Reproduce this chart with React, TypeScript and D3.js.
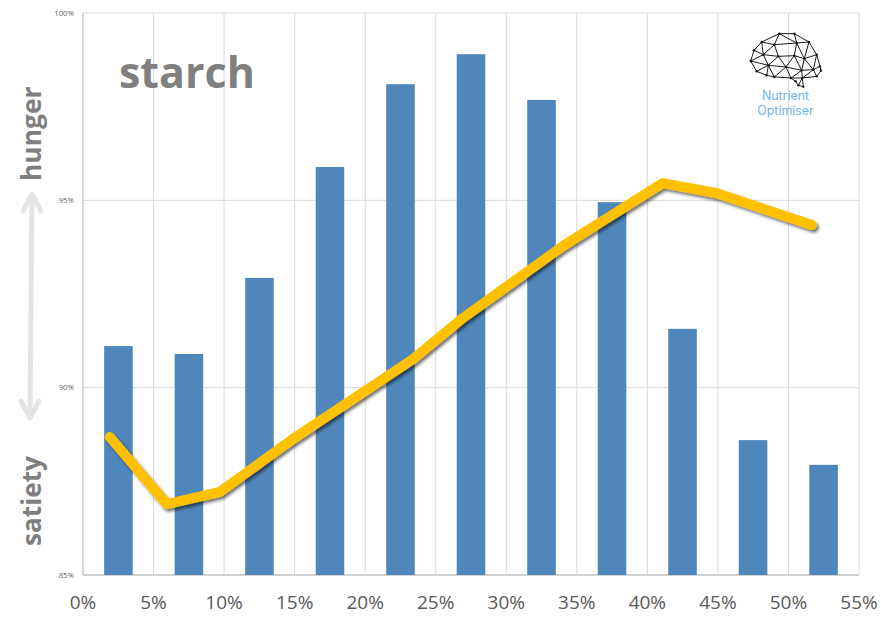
import * as d3 from 'd3'
import { useEffect, useRef } from 'react'

const width = 881
const height = 620

const xTicks = [0, 5, 10, 15, 20, 25, 30, 35, 40, 45, 50, 55]
const yTicks = [85, 90, 95, 100]

// one bar per 5% bin
const barBins = ['0-5', '5-10', '10-15', '15-20', '20-25', '25-30', '30-35', '35-40', '40-45', '45-50', '50-55']
const barValues = [91.11, 90.9, 92.93, 95.89, 98.1, 98.9, 97.68, 94.95, 91.57, 88.6, 87.94]

const lineX = [1.91, 5.95, 9.71, 14.88, 23.39, 26.93, 34.02, 41.1, 44.93, 51.66]
const lineY = [88.68, 86.89, 87.22, 88.63, 90.76, 91.86, 93.78, 95.46, 95.19, 94.34]

// brain logo, wireframe nodes in logo space
const brainNodes = [
    [103, 17], [148, 17], [50, 42], [88, 50], [155, 45], [192, 42], [27, 67], [55, 80], [17, 99],
    [100, 85], [148, 83], [178, 92], [215, 80], [35, 130], [70, 112], [123, 117], [225, 115],
    [65, 142], [88, 147], [170, 127], [205, 125], [228, 128], [138, 150], [172, 150], [215, 145],
    [160, 172], [175, 176], [152, 160]
]
const brainEdges = [
    [0, 1], [0, 2], [0, 3], [0, 4], [1, 4], [1, 5], [2, 3], [2, 6], [2, 7], [3, 7], [3, 4], [3, 9], [4, 5],
    [4, 10], [4, 11], [5, 11], [5, 12], [6, 7], [6, 8], [7, 8], [7, 9], [7, 14], [8, 13], [8, 14], [9, 10],
    [9, 15], [9, 14], [10, 11], [10, 15], [11, 12], [11, 19], [11, 20], [12, 16], [12, 20], [13, 14],
    [13, 17], [14, 17], [14, 18], [14, 15], [15, 18], [15, 19], [15, 22], [16, 20], [16, 21], [17, 18],
    [19, 20], [19, 22], [19, 23], [20, 23], [20, 24], [21, 24], [22, 23], [22, 27], [23, 24], [23, 25],
    [25, 26], [25, 27], [23, 26], [10, 19], [18, 22]
]

const createChart = (node: SVGSVGElement) => {
    const svg = d3.select(node)
    svg.selectAll('*').remove()

    const defs = svg.append('defs')
    const shadow = defs.append('filter')
        .attr('id', 'lineShadow')
        .attr('x', '-10%').attr('y', '-10%').attr('width', '120%').attr('height', '130%')
    shadow.append('feDropShadow')
        .attr('dx', 2).attr('dy', 2.5).attr('stdDeviation', 1.6)
        .attr('flood-color', '#000').attr('flood-opacity', 0.55)

    const x = d3.scaleLinear().domain([0, 55]).range([83, 859])
    const y = d3.scaleLinear().domain([85, 100]).range([575, 13])
    const band = d3.scaleBand().domain(barBins).range([83, 859]).paddingInner(0.595).paddingOuter(0.3)

    // Gridlines
    svg.selectAll('line.v').data(xTicks).enter().append('line')
        .attr('x1', d => x(d)).attr('x2', d => x(d))
        .attr('y1', y(100)).attr('y2', y(85))
        .attr('stroke', '#d9d9d9').attr('stroke-width', 1)

    svg.selectAll('line.h').data(yTicks).enter().append('line')
        .attr('x1', x(0)).attr('x2', x(55))
        .attr('y1', d => y(d)).attr('y2', d => y(d))
        .attr('stroke', '#d9d9d9').attr('stroke-width', 1)

    svg.append('line')
        .attr('x1', x(0)).attr('x2', x(0)).attr('y1', y(100)).attr('y2', y(85))
        .attr('stroke', '#bfbfbf').attr('stroke-width', 1)
    svg.append('line')
        .attr('x1', x(0)).attr('x2', x(55)).attr('y1', y(85)).attr('y2', y(85))
        .attr('stroke', '#b5b5b5').attr('stroke-width', 1)

    // Bars
    svg.selectAll('rect.bar').data(barValues).enter().append('rect')
        .attr('x', (d, i) => band(barBins[i])!)
        .attr('width', band.bandwidth())
        .attr('y', d => y(d))
        .attr('height', d => y(85) - y(d))
        .attr('fill', '#4f87bb')

    // Tick labels
    svg.selectAll('text.y').data(yTicks).enter().append('text')
        .attr('x', 74).attr('y', d => y(d) + 2.5)
        .attr('text-anchor', 'end')
        .attr('font-family', '"Open Sans", sans-serif')
        .attr('font-size', 7.8)
        .attr('fill', '#666')
        .text(d => `${d}%`)

    svg.selectAll('text.x').data(xTicks).enter().append('text')
        .attr('x', d => x(d)).attr('y', 609)
        .attr('text-anchor', 'middle')
        .attr('font-family', '"Open Sans", sans-serif')
        .attr('font-size', 19)
        .attr('fill', '#595959')
        .text(d => `${d}%`)

    // Trend line
    const line = d3.line<number>()
        .x(d => x(d))
        .y((d, i) => y(lineY[i]))

    svg.append('path')
        .datum(lineX)
        .attr('d', line)
        .attr('fill', 'none')
        .attr('stroke', '#ffc000')
        .attr('stroke-width', 10)
        .attr('stroke-linecap', 'round')
        .attr('stroke-linejoin', 'round')
        .attr('filter', 'url(#lineShadow)')

    // Title and side labels
    const bold = (sel: d3.Selection<SVGTextElement, unknown, null, undefined>, size: number) =>
        sel.attr('font-family', '"Open Sans", sans-serif')
            .attr('font-weight', 700)
            .attr('font-size', size)
            .attr('fill', '#7f7f7f')

    bold(svg.append('text').attr('x', 119).attr('y', 88).text('starch'), 43)
    bold(svg.append('text').attr('transform', 'translate(41,181) rotate(-90)').text('hunger'), 26.4)
    bold(svg.append('text').attr('transform', 'translate(41,546) rotate(-90)').text('satiety'), 26.2)

    // Hunger / satiety arrow
    svg.append('path')
        .attr('d', d3.line()([[32, 194], [30, 418]]))
        .attr('fill', 'none')
        .attr('stroke', '#e4e4e4')
        .attr('stroke-width', 5)
    svg.append('path')
        .attr('d', d3.line()([[23, 211], [32, 194], [41, 211]]))
        .attr('fill', 'none')
        .attr('stroke', '#e6e6e6')
        .attr('stroke-width', 5)
        .attr('stroke-linecap', 'round')
        .attr('stroke-linejoin', 'round')
    svg.append('path')
        .attr('d', d3.line()([[21, 401], [30, 418], [39, 401]]))
        .attr('fill', 'none')
        .attr('stroke', '#e4e4e4')
        .attr('stroke-width', 5)
        .attr('stroke-linecap', 'round')
        .attr('stroke-linejoin', 'round')

    // Logo
    const logo = svg.append('g').attr('transform', 'translate(745,28) scale(0.3333)')
    logo.selectAll('line').data(brainEdges).enter().append('line')
        .attr('x1', d => brainNodes[d[0]][0]).attr('y1', d => brainNodes[d[0]][1])
        .attr('x2', d => brainNodes[d[1]][0]).attr('y2', d => brainNodes[d[1]][1])
        .attr('stroke', '#1a1a1a').attr('stroke-width', 3)
    logo.selectAll('circle').data(brainNodes).enter().append('circle')
        .attr('cx', d => d[0]).attr('cy', d => d[1]).attr('r', 3.6)
        .attr('fill', '#111')

    svg.selectAll('text.logo').data(['Nutrient', 'Optimiser']).enter().append('text')
        .attr('x', 785.5).attr('y', (d, i) => 100 + i * 15)
        .attr('text-anchor', 'middle')
        .attr('font-family', 'Inter, sans-serif')
        .attr('font-size', 12.4)
        .attr('fill', '#6fb5f0')
        .text(d => d)
}

const App = () => {
    const ref = useRef<SVGSVGElement>(null)

    useEffect(() => {
        if (ref.current) createChart(ref.current)
    }, [])

    return (
        <svg
            ref={ref}
            width={width}
            height={height}
            style={{ position: 'absolute', left: 0, top: 0, background: '#fff' }}
        />
    )
}

export default App
